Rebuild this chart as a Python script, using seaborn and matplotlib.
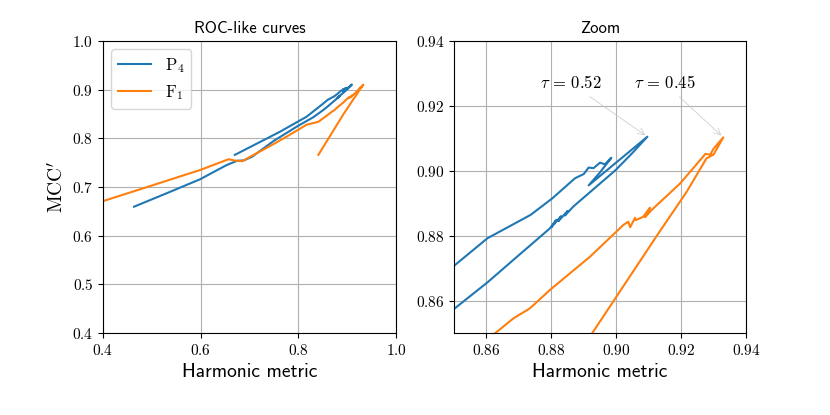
import numpy as np
import pandas as pd
import matplotlib
matplotlib.use("Agg")
import matplotlib.pyplot as plt
from matplotlib.ticker import FuncFormatter
import seaborn as sns

# ---- data ----
p4_x = [0.4635, 0.530, 0.599, 0.653, 0.675, 0.688, 0.705, 0.750, 0.800, 0.830,
        0.850, 0.8603, 0.870, 0.8795, 0.8815, 0.8800, 0.8830, 0.8822, 0.8850,
        0.8842, 0.8868, 0.8998, 0.905, 0.9096,
        0.8915, 0.8950, 0.8985, 0.8965, 0.8950, 0.8930, 0.8915, 0.8900, 0.8873,
        0.8803, 0.8736, 0.8603, 0.850, 0.817, 0.7625, 0.670]
p4_y = [0.6595, 0.687, 0.716, 0.745, 0.754, 0.7545, 0.762, 0.795, 0.826, 0.843,
        0.8574, 0.8656, 0.874, 0.8822, 0.8848, 0.8826, 0.8860, 0.8845, 0.8876,
        0.8862, 0.8890, 0.9002, 0.9055, 0.9105,
        0.8955, 0.8995, 0.9040, 0.9020, 0.9025, 0.9008, 0.9010, 0.8990, 0.8977,
        0.8915, 0.8864, 0.8792, 0.8707, 0.8445, 0.8136, 0.766]

f1_x = [0.390, 0.400, 0.500, 0.599, 0.657, 0.672, 0.685, 0.701, 0.740, 0.776,
        0.817, 0.841, 0.8629, 0.8683, 0.8734, 0.8796, 0.8919, 0.9022, 0.9037,
        0.9043, 0.9058, 0.9060, 0.9083, 0.9104, 0.9089, 0.9110, 0.9197, 0.9275,
        0.9290, 0.9300, 0.9330,
        0.9300, 0.9278, 0.9217, 0.9130, 0.8927, 0.841]
f1_y = [0.668, 0.671, 0.703, 0.735, 0.757, 0.754, 0.753, 0.762, 0.783, 0.8035,
        0.828, 0.834, 0.8501, 0.8545, 0.8576, 0.8633, 0.8735, 0.8833, 0.8843,
        0.8826, 0.8855, 0.8848, 0.8858, 0.8886, 0.8857, 0.8880, 0.8961, 0.9052,
        0.9050, 0.9068, 0.9103,
        0.9050, 0.9038, 0.8935, 0.8807, 0.8501, 0.766]

series_labels = [r"$\mathrm{P}_4$", r"$\mathrm{F}_1$"]
tau_labels = [r"$\tau \,=\, 0.52$", r"$\tau \,=\, 0.45$"]
left_xticks = [0.4, 0.6, 0.8, 1.0]
left_yticks = [0.4, 0.5, 0.6, 0.7, 0.8, 0.9, 1.0]
zoom_ticks = [0.86, 0.88, 0.90, 0.92, 0.94]

plt.rcParams["mathtext.fontset"] = "cm"
colors = ["#1f77b4", "#ff7f0e"]

df = pd.concat([
    pd.DataFrame({"x": p4_x, "y": p4_y, "s": series_labels[0]}),
    pd.DataFrame({"x": f1_x, "y": f1_y, "s": series_labels[1]}),
])

fig = plt.figure(figsize=(8.3, 4.15), dpi=100)
ax1 = fig.add_axes([103 / 830, 82 / 415, 293 / 830, 292 / 415])
ax2 = fig.add_axes([454 / 830, 82 / 415, 292 / 830, 292 / 415])

SANS = "cmss10"

for ax, legend in ((ax1, True), (ax2, False)):
    for lab, c in zip(series_labels, colors):
        sub = df[df["s"] == lab]
        sns.lineplot(data=sub, x="x", y="y", sort=False, estimator=None,
                     color=c, lw=1.5, ax=ax, label=lab if legend else None)
    ax.grid(True, color="#b0b0b0", lw=0.8)
    ax.set_axisbelow(True)
    ax.set_ylabel("")
    ax.tick_params(labelsize=11)

ax1.set_xlim(0.4, 1.0)
ax1.set_ylim(0.4, 1.0)
ax1.set_xticks(left_xticks)
ax1.set_yticks(left_yticks)
ax1.xaxis.set_major_formatter(FuncFormatter(lambda v, p: f"${v:.1f}$"))
ax1.yaxis.set_major_formatter(FuncFormatter(lambda v, p: f"${v:.1f}$"))
ax1.set_title("ROC-like curves", fontfamily=SANS, fontsize=12)
ax1.set_xlabel("Harmonic metric", fontfamily=SANS, fontsize=14)
ax1.set_ylabel(r"$\mathrm{MCC}'$", fontsize=14)
ax1.legend(loc="upper left", fontsize=12)

ax2.set_xlim(0.85, 0.94)
ax2.set_ylim(0.85, 0.94)
ax2.set_xticks(zoom_ticks)
ax2.set_yticks(zoom_ticks)
ax2.xaxis.set_major_formatter(FuncFormatter(lambda v, p: f"${v:.2f}$"))
ax2.yaxis.set_major_formatter(FuncFormatter(lambda v, p: f"${v:.2f}$"))
ax2.set_title("Zoom", fontfamily=SANS, fontsize=12)
ax2.set_xlabel("Harmonic metric", fontfamily=SANS, fontsize=14)

# annotations at curve tips (max y point of each series)
ib = int(np.argmax(p4_y))
io = int(np.argmax(f1_y))
ax2.annotate(tau_labels[0], xy=(p4_x[ib], p4_y[ib]), xytext=(0.8859, 0.927),
             ha="center", va="center", fontsize=12,
             arrowprops=dict(arrowstyle="->", color="0.78", lw=0.5))
ax2.annotate(tau_labels[1], xy=(f1_x[io], f1_y[io]), xytext=(0.9149, 0.927),
             ha="center", va="center", fontsize=12,
             arrowprops=dict(arrowstyle="->", color="0.78", lw=0.5))

fig.savefig("out.png", dpi=100)
